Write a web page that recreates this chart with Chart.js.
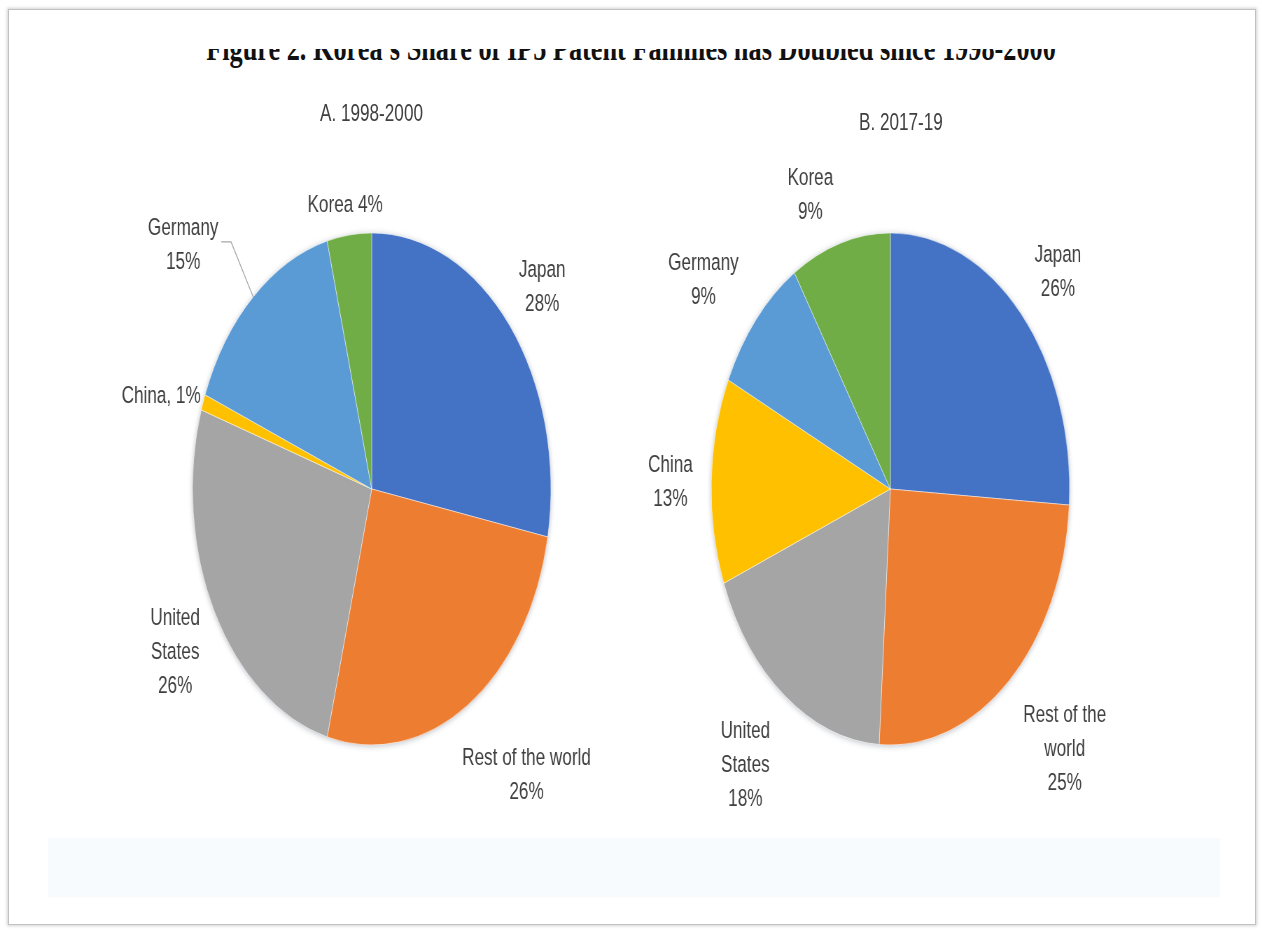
<!DOCTYPE html>
<html>
<head>
<meta charset="utf-8">
<script src="https://cdn.jsdelivr.net/npm/chart.js@4/dist/chart.umd.min.js"></script>
<style>
  html, body { margin: 0; padding: 0; background: #fff; }
  body { width: 1262px; height: 930px; position: relative; overflow: hidden; }
  .card {
    position: absolute; left: 8px; top: 9px; width: 1246px; height: 914px;
    border: 1px solid #c2c2c2; box-shadow: 0 0 3px 1px rgba(0,0,0,0.18); background: #fff;
  }
  .band { position: absolute; left: 48px; top: 838px; width: 1172px; height: 59px; background: #f7fbfd; }
  .title-clip { position: absolute; left: 0; top: 49px; width: 1262px; height: 24px; overflow: hidden; }
  .title {
    position: absolute; left: 0; width: 1262px; top: -20.6px; text-align: center; white-space: nowrap;
    font: bold 36px "Liberation Serif", "Times New Roman", serif; line-height: 40px; color: #111;
    transform: scaleX(0.73); transform-origin: 631px 0;
  }
  /* the chart panel is drawn wide and narrowed horizontally */
  .panel { position: absolute; left: 0; top: 0; width: 1803px; height: 930px; transform: scaleX(0.7); transform-origin: 0 0; }
  .sub {
    position: absolute; width: 400px; text-align: center; white-space: nowrap;
    font: 24.5px "Liberation Sans", Arial, sans-serif; line-height: 30px; color: #404040;
  }
  canvas { position: absolute; }
</style>
</head>
<body>
<div class="card"></div>
<div class="band"></div>
<div class="title-clip"><div class="title" id="mainTitle"></div></div>
<div class="panel">
  <div class="sub" id="subA" style="left:330.7px; top:98px;"></div>
  <div class="sub" id="subB" style="left:1087px; top:107px;"></div>
  <canvas id="pieA" width="740" height="700" style="left:160.7px; top:139px;"></canvas>
  <canvas id="pieB" width="740" height="700" style="left:902.1px; top:139px;"></canvas>
</div>
<script>
// Shares of IP5 patent families by origin (percent)
const categories = ['Japan', 'Rest of the world', 'United States', 'China', 'Germany', 'Korea'];
const shares1998 = [28, 26, 26, 1, 15, 4];
const shares2017 = [26, 25, 18, 13, 9, 9];
const sliceColors = ['#4472C4', '#ED7D31', '#A5A5A5', '#FFC000', '#5B9BD5', '#70AD47'];

const figureTitle = "Figure 2. Korea's Share of IP5 Patent Families has Doubled since 1998-2000";
const panelTitleA = 'A. 1998-2000';
const panelTitleB = 'B. 2017-19';

// how each slice's name is broken over lines
const labelLinesA = [['Japan'], ['Rest of the world'], ['United', 'States'], ['China,'], ['Germany'], ['Korea']];
const labelLinesB = [['Japan'], ['Rest of the', 'world'], ['United', 'States'], ['China'], ['Germany'], ['Korea']];

document.getElementById('mainTitle').textContent = figureTitle;
document.getElementById('subA').textContent = panelTitleA;
document.getElementById('subB').textContent = panelTitleB;

// soft drop shadow behind the whole pie
const pieShadow = {
  id: 'pieShadow',
  beforeDatasetsDraw(chart) {
    const arc = chart.getDatasetMeta(0).data[0];
    if (!arc) return;
    const {x, y, outerRadius} = arc.getProps(['x', 'y', 'outerRadius'], true);
    const ctx = chart.ctx;
    ctx.save();
    ctx.shadowColor = 'rgba(60,70,90,0.35)';
    ctx.shadowBlur = 6;
    ctx.shadowOffsetY = 1;
    ctx.beginPath();
    ctx.arc(x, y, outerRadius, 0, Math.PI * 2);
    ctx.fillStyle = '#fff';
    ctx.fill();
    ctx.restore();
  }
};

// category + percentage labels outside the slices
const sliceLabels = {
  id: 'sliceLabels',
  afterDatasetsDraw(chart, args, opts) {
    const ctx = chart.ctx;
    const meta = chart.getDatasetMeta(0);
    const values = chart.data.datasets[0].data;
    ctx.save();
    ctx.font = opts.size + 'px ' + opts.family;
    ctx.fillStyle = opts.color;
    ctx.textAlign = 'center';
    ctx.textBaseline = 'middle';
    meta.data.forEach((arc, i) => {
      const {x, y, startAngle, endAngle, outerRadius} =
        arc.getProps(['x', 'y', 'startAngle', 'endAngle', 'outerRadius'], true);
      const place = opts.placement[i];
      const midRaw = (startAngle + endAngle) / 2;
      const mid = midRaw + place.shift * Math.PI / 180;
      const d = outerRadius * place.dist;
      const cx = x + Math.cos(mid) * d;
      const cy = y + Math.sin(mid) * d;
      const lines = opts.lines[i].slice();
      const pct = values[i] + '%';
      if (place.inline) lines[lines.length - 1] += ' ' + pct; else lines.push(pct);
      const lh = opts.lineHeight;
      const top = cy - (lines.length - 1) * lh / 2;
      let maxW = 0;
      lines.forEach((t, k) => {
        ctx.fillText(t, cx, top + k * lh);
        maxW = Math.max(maxW, ctx.measureText(t).width);
      });
      if (place.leader) {
        const ex = x + Math.cos(midRaw) * outerRadius;
        const ey = y + Math.sin(midRaw) * outerRadius;
        const right = cx + maxW / 2;
        ctx.save();
        ctx.strokeStyle = '#a6a6a6';
        ctx.lineWidth = 1.3;
        ctx.beginPath();
        ctx.moveTo(right + 4, cy - 3);
        ctx.lineTo(right + 18, cy - 3);
        ctx.lineTo(ex, ey);
        ctx.stroke();
        ctx.restore();
      }
    });
    ctx.restore();
  }
};

function makePie(id, values, lines, placement) {
  return new Chart(document.getElementById(id), {
    type: 'pie',
    data: {
      labels: categories,
      datasets: [{
        data: values,
        backgroundColor: sliceColors,
        borderColor: 'rgba(255,255,255,0.8)',
        borderWidth: 0.6,
        hoverOffset: 0
      }]
    },
    options: {
      responsive: false,
      animation: false,
      radius: 256,
      layout: { padding: 0 },
      plugins: {
        legend: { display: false },
        tooltip: { enabled: false },
        title: { display: false },
        sliceLabels: {
          lines: lines,
          placement: placement,
          family: '"Liberation Sans", Arial, sans-serif',
          size: 24.5,
          lineHeight: 34,
          color: '#404040'
        }
      }
    },
    plugins: [pieShadow, sliceLabels]
  });
}

makePie('pieA', shares1998, labelLinesA, [
  { dist: 1.235, shift: 0 },
  { dist: 1.413, shift: -5.3 },
  { dist: 1.268, shift: -1.3 },
  { dist: 1.23, shift: -2.6, inline: true },
  { dist: 1.42, shift: -6.4, leader: true },
  { dist: 1.12, shift: -0.4, inline: true }
]);

makePie('pieB', shares2017, labelLinesB, [
  { dist: 1.262, shift: 1.0 },
  { dist: 1.408, shift: -2.3 },
  { dist: 1.348, shift: 0.9 },
  { dist: 1.228, shift: -0.5 },
  { dist: 1.324, shift: -3.4 },
  { dist: 1.23, shift: -5.1 }
]);
</script>
</body>
</html>
